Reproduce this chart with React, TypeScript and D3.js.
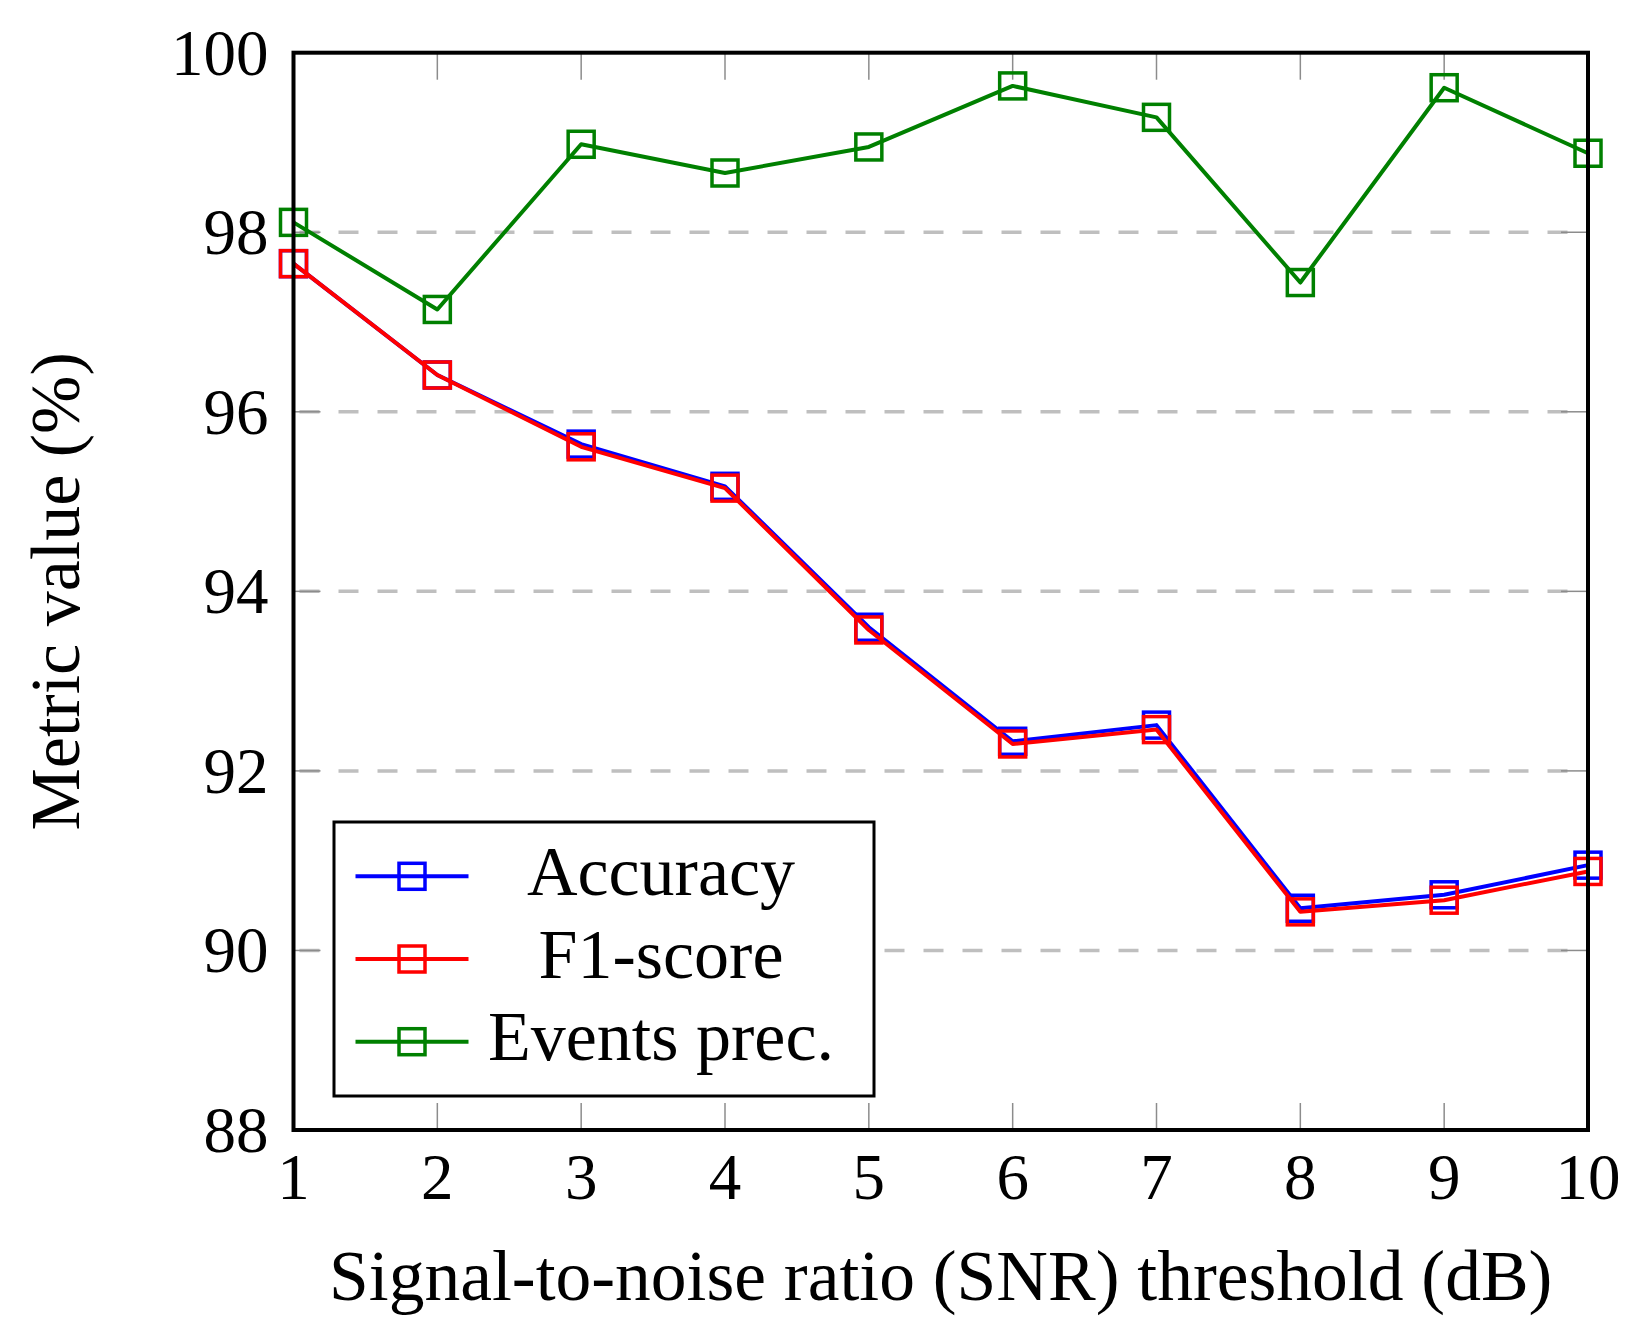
import { useEffect, useRef } from "react";
import * as d3 from "d3";

const snr = [1, 2, 3, 4, 5, 6, 7, 8, 9, 10];
const accuracy = [97.65, 96.41, 95.64, 95.17, 93.6, 92.33, 92.51, 90.47, 90.62, 90.95];
const f1Score = [97.65, 96.41, 95.61, 95.15, 93.57, 92.3, 92.46, 90.43, 90.56, 90.88];
const eventsPrec = [98.11, 97.14, 98.98, 98.66, 98.95, 99.63, 99.28, 97.44, 99.61, 98.88];
const yTicks = [88, 90, 92, 94, 96, 98, 100];

const series = [
  { name: "Accuracy", values: accuracy, color: "#0000ff" },
  { name: "F1-score", values: f1Score, color: "#ff0000" },
  { name: "Events prec.", values: eventsPrec, color: "#008000" },
];

const W = 1651;
const H = 1339;
const FONT = "'Liberation Serif', 'Times New Roman', serif";

export default function App() {
  const ref = useRef<SVGSVGElement | null>(null);

  useEffect(() => {
    if (!ref.current) return;
    const svg = d3.select(ref.current);
    svg.selectAll("*").remove();

    const left = 293.5;
    const right = 1588;
    const top = 52.7;
    const bottom = 1130;

    const x = d3.scaleLinear([1, 10], [left, right]);
    const y = d3.scaleLinear([88, 100], [bottom, top]);

    // grid lines
    svg
      .append("g")
      .selectAll("line")
      .data(yTicks.filter((t) => t > 88 && t < 100))
      .join("line")
      .attr("x1", left)
      .attr("x2", right)
      .attr("y1", (d) => y(d))
      .attr("y2", (d) => y(d))
      .attr("stroke", "#bfbfbf")
      .attr("stroke-width", 3.5)
      .attr("stroke-dasharray", "20 19")
      .attr("stroke-dashoffset", -6);

    // tick marks (inside, gray, all four sides)
    const tickG = svg.append("g").attr("stroke", "#8c8c8c").attr("stroke-width", 1.5);
    snr.slice(1, -1).forEach((t) => {
      tickG.append("line").attr("x1", x(t)).attr("x2", x(t)).attr("y1", bottom).attr("y2", bottom - 27);
      tickG.append("line").attr("x1", x(t)).attr("x2", x(t)).attr("y1", top).attr("y2", top + 27);
    });
    yTicks.slice(1, -1).forEach((t) => {
      tickG.append("line").attr("x1", left).attr("x2", left + 27).attr("y1", y(t)).attr("y2", y(t));
      tickG.append("line").attr("x1", right).attr("x2", right - 27).attr("y1", y(t)).attr("y2", y(t));
    });

    // series
    const line = d3
      .line<number>()
      .x((d, i) => x(snr[i]))
      .y((d) => y(d));

    series.forEach((s) => {
      const g = svg.append("g");
      g.append("path")
        .attr("d", line(s.values))
        .attr("fill", "none")
        .attr("stroke", s.color)
        .attr("stroke-width", 4)
        .attr("stroke-linejoin", "round");
      g.selectAll("rect")
        .data(s.values)
        .join("rect")
        .attr("x", (d, i) => x(snr[i]) - 13)
        .attr("y", (d) => y(d) - 13)
        .attr("width", 26)
        .attr("height", 26)
        .attr("fill", "none")
        .attr("stroke", s.color)
        .attr("stroke-width", 3.5);
    });

    // frame
    svg
      .append("rect")
      .attr("x", left)
      .attr("y", top)
      .attr("width", right - left)
      .attr("height", bottom - top)
      .attr("fill", "none")
      .attr("stroke", "#000")
      .attr("stroke-width", 4);

    // tick labels
    svg
      .append("g")
      .selectAll("text")
      .data(yTicks)
      .join("text")
      .attr("x", left - 25)
      .attr("y", (d) => y(d) + 22)
      .attr("text-anchor", "end")
      .attr("font-family", FONT)
      .attr("font-size", 65)
      .text((d) => d);

    svg
      .append("g")
      .selectAll("text")
      .data(snr)
      .join("text")
      .attr("x", (d) => x(d))
      .attr("y", 1199)
      .attr("text-anchor", "middle")
      .attr("font-family", FONT)
      .attr("font-size", 65)
      .text((d) => d);

    // axis titles
    svg
      .append("text")
      .attr("x", (left + right) / 2)
      .attr("y", 1300)
      .attr("text-anchor", "middle")
      .attr("font-family", FONT)
      .attr("font-size", 71.5)
      .text("Signal-to-noise ratio (SNR) threshold (dB)");

    svg
      .append("text")
      .attr("transform", `translate(79,${(top + bottom) / 2}) rotate(-90)`)
      .attr("text-anchor", "middle")
      .attr("font-family", FONT)
      .attr("font-size", 70)
      .text("Metric value (%)");

    // legend
    const lg = svg.append("g");
    lg.append("rect")
      .attr("x", 334)
      .attr("y", 822)
      .attr("width", 540)
      .attr("height", 274)
      .attr("fill", "#fff")
      .attr("stroke", "#000")
      .attr("stroke-width", 3);
    series.forEach((s, i) => {
      const cy = 876.3 + i * 82.7;
      lg.append("line")
        .attr("x1", 355.5)
        .attr("x2", 468.5)
        .attr("y1", cy)
        .attr("y2", cy)
        .attr("stroke", s.color)
        .attr("stroke-width", 4);
      lg.append("rect")
        .attr("x", 412 - 13)
        .attr("y", cy - 13)
        .attr("width", 26)
        .attr("height", 26)
        .attr("fill", "none")
        .attr("stroke", s.color)
        .attr("stroke-width", 3.5);
      lg.append("text")
        .attr("x", 661)
        .attr("y", cy + 18.5)
        .attr("text-anchor", "middle")
        .attr("font-family", FONT)
        .attr("font-size", 70)
        .text(s.name);
    });
  }, []);

  return (
    <svg
      ref={ref}
      width={W}
      height={H}
      style={{ position: "absolute", left: 0, top: 0, background: "#fff" }}
    />
  );
}
